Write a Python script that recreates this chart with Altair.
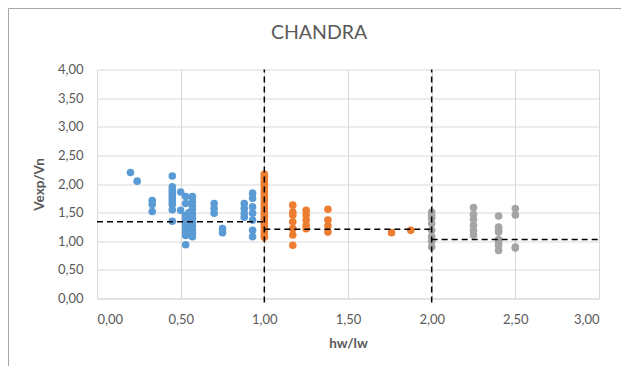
import altair as alt
import pandas as pd

# ---- data ----
blue_hw = [0.20, 0.24,
           0.33, 0.33, 0.33,
           0.45, 0.45, 0.45, 0.45, 0.45, 0.45, 0.45, 0.45, 0.45, 0.45,
           0.50, 0.50,
           0.53, 0.53, 0.53, 0.53, 0.53, 0.53, 0.53, 0.53, 0.53, 0.53, 0.53,
           0.55, 0.55, 0.55, 0.55,
           0.57, 0.57, 0.57, 0.57, 0.57, 0.57, 0.57, 0.57, 0.57, 0.57, 0.57,
           0.70, 0.70, 0.70,
           0.75, 0.75,
           0.88, 0.88, 0.88, 0.88,
           0.93, 0.93, 0.93, 0.93, 0.93, 0.93, 0.93]
blue_v = [2.20, 2.05,
          1.71, 1.64, 1.52,
          2.14, 1.95, 1.90, 1.85, 1.80, 1.76, 1.70, 1.64, 1.55, 1.35,
          1.86, 1.54,
          1.78, 1.66, 1.45, 1.40, 1.35, 1.30, 1.25, 1.20, 1.15, 1.10, 0.94,
          1.50, 1.38, 1.22, 1.12,
          1.78, 1.70, 1.62, 1.55, 1.47, 1.40, 1.33, 1.26, 1.20, 1.14, 1.08,
          1.66, 1.57, 1.49,
          1.22, 1.15,
          1.66, 1.57, 1.49, 1.42,
          1.84, 1.75, 1.60, 1.49, 1.37, 1.19, 1.08]

orange_hw = [1.00] * 23 + [1.17] * 7 + [1.25] * 5 + [1.38] * 4 + [1.76, 1.875]
orange_v = [2.17, 2.12, 2.07, 2.02, 1.97, 1.92, 1.87, 1.82, 1.77, 1.72, 1.67, 1.62,
            1.57, 1.52, 1.47, 1.42, 1.37, 1.32, 1.27, 1.22, 1.17, 1.12, 1.07,
            1.63, 1.51, 1.46, 1.34, 1.22, 1.11, 0.93,
            1.54, 1.46, 1.37, 1.28, 1.22,
            1.56, 1.37, 1.27, 1.16,
            1.15, 1.19]

gray_hw = [2.00] * 8 + [2.25] * 6 + [2.40] * 8 + [2.50] * 4
gray_v = [1.51, 1.45, 1.40, 1.31, 1.19, 1.08, 1.00, 0.90,
          1.59, 1.47, 1.38, 1.28, 1.19, 1.11,
          1.44, 1.25, 1.20, 1.16, 1.03, 0.98, 0.93, 0.84,
          1.57, 1.46, 0.90, 0.88]

series_names = ["A", "B", "C"]
series_colors = ["#5B9BD5", "#ED7D31", "#A5A5A5"]

seg_x = [0.0, 1.0, 2.0]
seg_x2 = [1.0, 2.0, 3.0]
seg_v = [1.34, 1.21, 1.03]

vline_x = [1.0, 2.0]
vline_y = [-0.07, -0.07]
vline_y2 = [4.0, 4.0]

x_ticks = [0.0, 0.5, 1.0, 1.5, 2.0, 2.5, 3.0]
y_ticks = [0.0, 0.5, 1.0, 1.5, 2.0, 2.5, 3.0, 3.5, 4.0]

chart_title = "CHANDRA"

# ---- tables ----
pts = pd.concat([
    pd.DataFrame({"hw": blue_hw, "v": blue_v, "s": series_names[0]}),
    pd.DataFrame({"hw": orange_hw, "v": orange_v, "s": series_names[1]}),
    pd.DataFrame({"hw": gray_hw, "v": gray_v, "s": series_names[2]}),
], ignore_index=True)
pts["order"] = pts["s"].map({n: i for i, n in enumerate(series_names)})

segs = pd.DataFrame({"hw": seg_x, "x2": seg_x2, "v": seg_v})
vlines = pd.DataFrame({"hw": vline_x, "v": vline_y, "y2": vline_y2})

lbl = "replace(format(datum.value, '.2f'), '.', ',')"
FONT = "Lato"
GREY_TXT = "#595959"

xscale = alt.Scale(domain=[0, 3], nice=False)
yscale = alt.Scale(domain=[0, 4], nice=False)

x_axis = alt.Axis(values=x_ticks, labelExpr=lbl, title="hw/lw", labelOverlap=False,
                  labelPadding=15, titleY=38, titleBaseline="top")
y_axis = alt.Axis(values=y_ticks, labelExpr=lbl, title="Vexp/Vn", labelOverlap=False,
                  labelPadding=14, titleX=-58, titleBaseline="middle", tickCount=9)

X = alt.X("hw:Q", scale=xscale, axis=x_axis)
Y = alt.Y("v:Q", scale=yscale, axis=y_axis)

points = alt.Chart(pts).mark_circle(size=58, opacity=1).encode(
    x=X, y=Y,
    color=alt.Color("s:N", scale=alt.Scale(domain=series_names, range=series_colors),
                    legend=None),
    order=alt.Order("order:Q"),
)

hsegs = alt.Chart(segs).mark_rule(color="black", strokeWidth=1.5, strokeDash=[6, 4]).encode(
    x=X, x2="x2:Q", y=Y
)

vrules = alt.Chart(vlines).mark_rule(color="black", strokeWidth=1.5, strokeDash=[6, 4],
                                     clip=False).encode(
    x=X, y=Y, y2="y2:Q"
)

one = pd.DataFrame({"t": [chart_title]})

border_left = alt.Chart(one).mark_rule(stroke="#A6A6A6", strokeWidth=1).encode(
    x=alt.value(-88.5), y=alt.value(-61), y2=alt.value(297)
)
border_top = alt.Chart(one).mark_rule(stroke="#A6A6A6", strokeWidth=1).encode(
    x=alt.value(-88.5), x2=alt.value(540), y=alt.value(-61)
)

title_txt = alt.Chart(one).mark_text(
    font=FONT, fontSize=19.5, color=GREY_TXT, align="center", baseline="alphabetic"
).encode(text="t:N", x=alt.value(222), y=alt.value(-30.5))

chart = alt.layer(border_left, border_top, title_txt, points, hsegs, vrules).properties(
    width=502,
    height=229,
    padding={"left": 89, "top": 61.5, "right": 22, "bottom": 67.5},
    autosize=alt.AutoSizeParams(type="none"),
).configure_view(stroke=None).configure_axis(
    grid=True, gridColor="#D9D9D9", gridWidth=1,
    domainColor="#D9D9D9", domainWidth=1,
    ticks=False, tickSize=0,
    labelFont=FONT, labelFontSize=13, labelColor=GREY_TXT,
    titleFont=FONT, titleFontSize=13.5, titleFontWeight="bold", titleColor=GREY_TXT,
)

chart.save("out.html", embed_options={"renderer": "svg", "actions": False})
